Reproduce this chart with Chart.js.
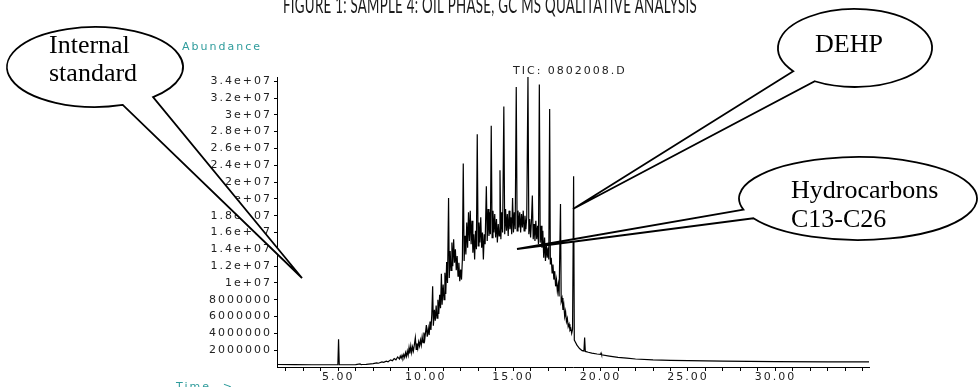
<!DOCTYPE html>
<html>
<head>
<meta charset="utf-8">
<script src="https://cdn.jsdelivr.net/npm/chart.js@4.4.0/dist/chart.umd.min.js"></script>
<style>
  html, body { margin: 0; padding: 0; background: #fff; }
  canvas { display: block; }
</style>
</head>
<body>
<canvas id="gcms" width="979" height="387"></canvas>
<script>
// retention time (min) and TIC abundance (millions of counts)
const retentionTime = [
  1.50, 2.50, 3.50, 4.50, 4.98, 5.02, 5.06, 5.50, 6.00, 6.25,
  6.30, 6.60, 7.00, 7.20, 7.30, 7.50, 7.60, 7.75, 7.85, 8.00,
  8.10, 8.20, 8.30, 8.40, 8.50, 8.55, 8.60, 8.65, 8.70, 8.75,
  8.80, 8.85, 8.90, 8.95, 9.00, 9.05, 9.10, 9.15, 9.20, 9.25,
  9.30, 9.35, 9.41, 9.46, 9.50, 9.55, 9.60, 9.65, 9.70, 9.75,
  9.80, 9.85, 9.90, 9.95, 10.04, 10.09, 10.15, 10.20, 10.25, 10.30,
  10.35, 10.40, 10.44, 10.50, 10.55, 10.60, 10.65, 10.70, 10.75, 10.80,
  10.85, 10.90, 10.94, 11.00, 11.05, 11.10, 11.15, 11.20, 11.25, 11.31,
  11.35, 11.40, 11.45, 11.50, 11.55, 11.60, 11.65, 11.70, 11.75, 11.80,
  11.85, 11.90, 11.95, 12.00, 12.05, 12.10, 12.15, 12.20, 12.25, 12.30,
  12.35, 12.40, 12.45, 12.50, 12.55, 12.60, 12.65, 12.70, 12.75, 12.80,
  12.85, 12.90, 12.95, 13.00, 13.05, 13.10, 13.15, 13.20, 13.25, 13.30,
  13.35, 13.40, 13.47, 13.52, 13.57, 13.62, 13.66, 13.70, 13.75, 13.80,
  13.85, 13.90, 13.95, 14.00, 14.05, 14.10, 14.15, 14.20, 14.25, 14.30,
  14.35, 14.40, 14.47, 14.52, 14.57, 14.62, 14.67, 14.72, 14.77, 14.82,
  14.87, 14.92, 14.97, 15.02, 15.07, 15.12, 15.18, 15.23, 15.28, 15.33,
  15.38, 15.43, 15.48, 15.53, 15.58, 15.63, 15.68, 15.73, 15.78, 15.85,
  15.90, 15.95, 16.00, 16.05, 16.10, 16.15, 16.20, 16.25, 16.30, 16.35,
  16.40, 16.45, 16.50, 16.55, 16.60, 16.65, 16.70, 16.75, 16.80, 16.85,
  16.90, 16.95, 17.00, 17.04, 17.09, 17.13, 17.18, 17.23, 17.28, 17.33,
  17.38, 17.43, 17.48, 17.53, 17.58, 17.63, 17.71, 17.75, 17.80, 17.85,
  17.90, 17.95, 18.00, 18.05, 18.10, 18.15, 18.20, 18.25, 18.30, 18.35,
  18.40, 18.46, 18.50, 18.55, 18.65, 18.80, 18.95, 19.05, 19.09, 19.13,
  19.30, 19.50, 19.80, 20.00, 20.03, 20.06, 20.50, 21.00, 21.50, 22.00,
  23.00, 24.00, 25.00, 27.00, 30.00, 33.00, 35.35
];
const abundance = [
  0.30, 0.28, 0.27, 0.27, 0.27, 3.30, 0.27, 0.27, 0.28, 0.36,
  0.30, 0.32, 0.40, 0.50, 0.45, 0.60, 0.55, 0.70, 0.62, 0.85,
  0.75, 1.00, 0.85, 1.20, 0.95, 1.30, 1.05, 1.40, 1.10, 1.50,
  1.15, 1.70, 1.25, 1.90, 1.40, 2.30, 1.60, 2.50, 1.70, 2.40,
  1.90, 2.60, 3.50, 2.10, 2.80, 2.20, 3.00, 2.50, 3.20, 2.60,
  3.60, 2.90, 4.10, 3.30, 5.00, 3.60, 4.60, 3.80, 5.40, 4.40,
  6.20, 9.60, 4.90, 6.80, 5.50, 7.30, 5.80, 8.00, 6.30, 8.60,
  7.00, 11.10, 7.40, 9.80, 8.00, 11.20, 8.70, 12.50, 10.00, 20.10,
  10.60, 13.80, 11.50, 14.80, 12.00, 15.20, 12.40, 14.00, 11.50, 13.20,
  10.80, 12.40, 10.20, 11.60, 10.40, 12.80, 24.20, 12.60, 15.60, 13.40,
  17.20, 14.20, 18.40, 15.00, 18.60, 14.60, 17.40, 13.60, 15.80, 12.80,
  16.20, 14.00, 27.70, 14.40, 17.20, 14.80, 17.80, 14.20, 16.00, 12.80,
  15.80, 14.60, 21.50, 15.00, 18.80, 15.60, 18.40, 15.80, 28.70, 15.40,
  18.60, 16.00, 18.20, 15.40, 17.60, 14.80, 17.00, 15.60, 23.40, 15.20,
  18.40, 16.00, 31.00, 15.80, 18.80, 16.20, 18.20, 15.60, 18.60, 16.40,
  17.80, 15.80, 20.10, 16.00, 18.40, 16.40, 33.30, 16.20, 18.60, 16.60,
  18.40, 16.00, 18.20, 16.60, 18.60, 16.20, 18.00, 16.40, 17.80, 34.60,
  15.80, 17.60, 15.40, 17.40, 20.40, 15.20, 17.00, 15.00, 17.40, 15.20,
  16.80, 14.60, 33.60, 14.80, 16.80, 14.20, 16.20, 13.00, 15.40, 12.60,
  14.60, 13.00, 14.20, 12.80, 30.70, 12.20, 13.00, 11.20, 12.20, 10.40,
  11.40, 9.60, 10.40, 9.00, 9.80, 8.40, 19.40, 7.80, 8.20, 6.80,
  7.40, 6.00, 6.60, 5.40, 5.80, 4.80, 5.10, 4.40, 4.60, 4.00,
  4.50, 22.70, 3.20, 3.00, 2.60, 2.20, 1.95, 1.90, 3.50, 1.85,
  1.75, 1.65, 1.55, 1.50, 1.65, 1.45, 1.30, 1.15, 1.05, 0.95,
  0.85, 0.80, 0.75, 0.70, 0.65, 0.62, 0.60
];

const xTickValues = [2, 3, 4, 5, 6, 7, 8, 9, 10, 11, 12, 13, 14, 15, 16, 17, 18, 19,
  20, 21, 22, 23, 24, 25, 26, 27, 28, 29, 30, 31, 32, 33, 34, 35];
const xLabelValues = [5, 10, 15, 20, 25, 30];

const yTickValues = [2e6, 4e6, 6e6, 8e6, 1e7, 1.2e7, 1.4e7, 1.6e7, 1.8e7, 2e7,
  2.2e7, 2.4e7, 2.6e7, 2.8e7, 3e7, 3.2e7, 3.4e7];
const yTickLabels = ['2000000', '4000000', '6000000', '8000000', '1e+07', '1.2e+07',
  '1.4e+07', '1.6e+07', '1.8e+07', '2e+07', '2.2e+07', '2.4e+07', '2.6e+07',
  '2.8e+07', '3e+07', '3.2e+07', '3.4e+07'];

const titleText = 'FIGURE 1: SAMPLE 4: OIL PHASE, GC MS QUALITATIVE ANALYSIS';
const fileLabel = 'TIC: 0802008.D';
const calloutTexts = [['Internal', 'standard'], ['DEHP'], ['Hydrocarbons', 'C13-C26']];

if (retentionTime.length !== abundance.length) console.error('length mismatch');

const points = retentionTime.map((t, i) => ({ x: t, y: abundance[i] * 1e6 }));

const TEAL = '#2f9c9c';

function callout(ctx, c) {
  const a1 = c.a1 * Math.PI / 180;
  const a2 = c.a2 * Math.PI / 180;
  ctx.beginPath();
  ctx.ellipse(c.cx, c.cy, c.rx, c.ry, 0, a1, a2, false);
  ctx.lineTo(c.tip[0], c.tip[1]);
  ctx.closePath();
  ctx.fillStyle = '#fff';
  ctx.fill();
  ctx.lineWidth = 1.8;
  ctx.strokeStyle = '#000';
  ctx.stroke();
}

const annotations = {
  id: 'annotations',
  beforeDraw(chart) {
    chart.ctx.letterSpacing = '2px';
  },
  afterDraw(chart) {
    const ctx = chart.ctx;
    ctx.save();

    // title, top clipped by the page edge
    ctx.letterSpacing = '0.5px';
    ctx.font = '24px Lato';
    ctx.fillStyle = '#1a1a1a';
    ctx.textAlign = 'center';
    ctx.textBaseline = 'alphabetic';
    ctx.fillText(titleText, 490, 13, 414);

    // ChemStation labels
    ctx.letterSpacing = '2px';
    ctx.font = '11px "DejaVu Sans"';
    ctx.textAlign = 'left';
    ctx.textBaseline = 'middle';
    ctx.fillStyle = TEAL;
    ctx.fillText('Abundance', 182, 47);
    ctx.textBaseline = 'top';
    ctx.fillText('Time-->', 176, 382);
    ctx.textBaseline = 'middle';
    ctx.fillStyle = '#222';
    ctx.fillText(fileLabel, 513, 71);

    // callouts
    ctx.letterSpacing = '0px';
    callout(ctx, { cx: 95, cy: 67, rx: 88, ry: 40, a1: 71.6, a2: 48.7, tip: [302, 278] });
    callout(ctx, { cx: 855, cy: 48, rx: 77, ry: 39, a1: 143.3, a2: 121.5, tip: [573, 209] });
    callout(ctx, { cx: 858, cy: 198.5, rx: 119, ry: 41.5, a1: 164.4, a2: 151.5, tip: [517, 249] });

    ctx.font = '26px "Liberation Serif"';
    ctx.fillStyle = '#000';
    ctx.textBaseline = 'alphabetic';
    ctx.textAlign = 'left';
    ctx.fillText(calloutTexts[0][0], 49, 53);
    ctx.fillText(calloutTexts[0][1], 49, 81);
    ctx.fillText(calloutTexts[1][0], 815, 52);
    ctx.fillText(calloutTexts[2][0], 791, 198);
    ctx.fillText(calloutTexts[2][1], 791, 227);

    ctx.restore();
  }
};

const tickFont = { family: 'DejaVu Sans', size: 11 };

new Chart(document.getElementById('gcms'), {
  type: 'line',
  data: {
    datasets: [{
      data: points,
      borderColor: '#000',
      borderWidth: 1.2,
      pointRadius: 0,
      tension: 0,
      fill: false,
    }],
  },
  options: {
    responsive: false,
    animation: false,
    events: [],
    layout: { padding: { top: 77, right: 110, left: 0, bottom: 0 } },
    plugins: { legend: { display: false }, tooltip: { enabled: false } },
    scales: {
      x: {
        type: 'linear',
        min: 1.5,
        max: 35.35,
        offset: false,
        afterBuildTicks: (s) => { s.ticks = xTickValues.map((v) => ({ value: v })); },
        afterFit: (s) => { s.height = 20; },
        ticks: {
          autoSkip: false,
          maxRotation: 0,
          callback: (v) => (xLabelValues.includes(v) ? v.toFixed(2) : ''),
          font: tickFont,
          color: '#222',
          padding: 0,
        },
        grid: { drawOnChartArea: false, tickLength: 4, color: '#000' },
        border: { color: '#000', width: 1 },
      },
      y: {
        min: 0,
        max: 3.45e7,
        afterBuildTicks: (s) => { s.ticks = yTickValues.map((v) => ({ value: v })); },
        afterFit: (s) => { s.width = 277; },
        ticks: {
          autoSkip: false,
          callback: (v, i) => yTickLabels[i],
          font: tickFont,
          color: '#222',
          padding: 2,
        },
        grid: { drawOnChartArea: false, tickLength: 3, color: '#000' },
        border: { color: '#000', width: 1 },
      },
    },
  },
  plugins: [annotations],
});
</script>
</body>
</html>
